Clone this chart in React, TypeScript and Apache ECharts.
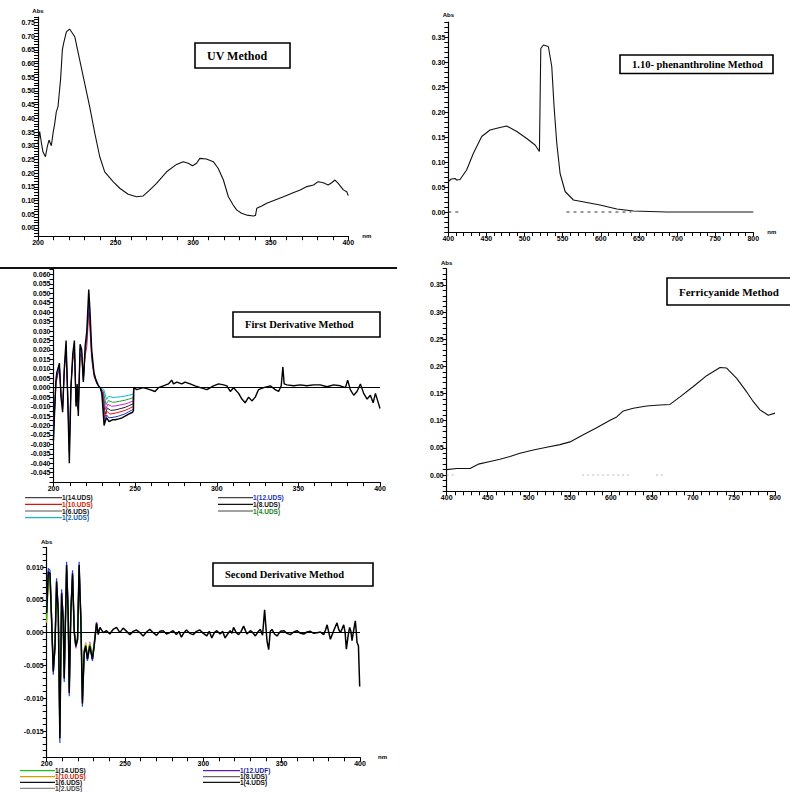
import React, { useEffect, useRef } from "react";
import * as echarts from "echarts";

// ---------- DATA ----------
// UV Method absorption spectrum: [wavelength nm, Abs]
const uvSpectrum: number[][] = [
  [200, 0.309], [201.1, 0.352], [202.2, 0.31], [203.2, 0.278], [204.8, 0.26], [206.0, 0.297],
  [207.1, 0.321], [208.6, 0.3], [209.7, 0.346], [210.8, 0.382], [211.8, 0.424], [212.9, 0.443],
  [214.0, 0.51], [214.6, 0.546], [215.7, 0.65], [216.5, 0.674], [218.3, 0.716], [220.4, 0.726],
  [223.7, 0.698], [226.9, 0.613], [230.1, 0.528], [233.3, 0.443], [236.6, 0.346], [239.8, 0.26],
  [243.0, 0.205], [248.4, 0.169], [252.7, 0.145], [258.1, 0.123], [263.5, 0.114], [267.8, 0.117],
  [272.1, 0.139], [276.4, 0.163], [282.9, 0.205], [289.3, 0.232], [293.6, 0.242], [296.8, 0.236],
  [299.6, 0.227], [302.2, 0.236], [304.3, 0.254], [308.5, 0.252], [313.0, 0.242], [316.1, 0.218],
  [319.5, 0.175], [322.7, 0.114], [325.8, 0.084], [328.0, 0.066], [331.2, 0.054], [334.5, 0.047],
  [338.9, 0.044], [340.2, 0.046], [341.0, 0.072], [344.2, 0.08], [347.4, 0.09], [352.8, 0.102],
  [358.2, 0.114], [363.6, 0.127], [369.0, 0.139], [373.3, 0.151], [377.6, 0.157], [380.6, 0.169],
  [383.9, 0.165], [387.0, 0.157], [389.3, 0.165], [391.4, 0.175], [393.5, 0.163], [396.8, 0.139],
  [399.0, 0.132], [400, 0.118],
];

// 1,10-phenanthroline Method spectrum
const phenSpectrum: number[][] = [
  [400, 0.061], [404, 0.066], [408.8, 0.067], [411, 0.064], [415.4, 0.065], [424, 0.084],
  [432.8, 0.117], [443.8, 0.151], [454.7, 0.164], [467.8, 0.169], [476.6, 0.172], [489.8, 0.161],
  [502.9, 0.147], [513.8, 0.134], [519.5, 0.121], [521.3, 0.327], [524.7, 0.334], [531.2, 0.331],
  [535.7, 0.291], [538.7, 0.211], [542.3, 0.137], [546.6, 0.077], [553.2, 0.041], [564.1, 0.024],
  [581.6, 0.019], [599, 0.014], [621, 0.006], [642.8, 0.002], [686.6, 0], [800, 0],
];
const phenZeroDashes: (number | string)[][] = [[400, 0], [414, 0], ["-", "-"], [555, 0], [640, 0]];

// Ferricyanide Method spectrum
const ferriSpectrum: number[][] = [
  [400, 0.01], [412.2, 0.012], [428.4, 0.012], [438.5, 0.02], [452.8, 0.025], [464.9, 0.029],
  [477.1, 0.034], [489.3, 0.04], [505.5, 0.046], [521.8, 0.051], [538, 0.056], [550.2, 0.061],
  [566.4, 0.074], [582.7, 0.087], [599, 0.101], [607.1, 0.107], [615.2, 0.118], [627.3, 0.123],
  [643.6, 0.127], [659.9, 0.129], [672, 0.13], [684.3, 0.144], [700.5, 0.163], [716.7, 0.183],
  [733, 0.198], [741.1, 0.197], [753.3, 0.178], [765.5, 0.153], [773.6, 0.135], [781.7, 0.12],
  [791.8, 0.11], [800, 0.114],
];
const ferriZeroDashes: (number | string)[][] = [[400, 0], [412, 0], ["-", "-"], [565, 0], [625, 0], ["-", "-"], [655, 0], [665, 0]];

// First derivative spectra
const firstDeriv14: number[][] = [
  [200, -0.028], [200.8, -0.01], [201.5, 0.004], [202.0, 0.008], [203.0, 0.011], [203.6, 0.013],
  [204.6, -0.005], [205.6, -0.013], [206.6, 0.01], [207.7, 0.025], [208.7, -0.005], [209.7, -0.04],
  [210.7, 0.0], [211.8, 0.018], [212.8, 0.025], [213.8, -0.01], [214.5, 0.002], [215.2, -0.015],
  [216.3, 0.023], [217.3, 0.02], [218.3, 0.003], [219.4, 0.022], [220.4, 0.03], [221.6, 0.052],
  [222.4, 0.04], [223.4, 0.02], [224.8, 0.008], [225.7, 0.005], [226.6, 0.003], [227.5, 0.001],
  [228.6, 0.0], [229.6, -0.003], [231.0, -0.02], [232.0, -0.017], [232.6, -0.016], [234, -0.018],
  [236, -0.017], [237.7, -0.017], [240, -0.0165], [242, -0.016], [243.9, -0.015], [246, -0.014],
  [248.5, -0.013], [249.0, -0.012], [249.2, 0.0], [251, -0.001], [255, 0.0], [259, -0.001],
  [262.2, -0.002], [264.3, 0.0], [267.3, 0.001], [270.4, 0.002], [272.4, 0.004], [273.5, 0.002],
  [275.5, 0.003], [278.6, 0.002], [280.6, 0.003], [283.7, 0.002], [286.7, 0.001], [289.9, 0.0],
  [294, -0.001], [298, 0.001], [301.1, 0.002], [304.2, 0.0015], [306.2, 0.001], [308.3, -0.002],
  [310.3, 0.0], [313.4, -0.003], [315.4, -0.006], [317.4, -0.008], [319.5, -0.005], [321.5, -0.007],
  [323.6, -0.005], [325.6, -0.001], [328.7, 0.0], [332.8, 0.001], [335.8, -0.001], [337.9, -0.002],
  [339.5, 0.001], [340.5, 0.011], [341.3, 0.002], [343, 0.0015], [347.1, 0.001], [351.2, 0.0015],
  [355.2, 0.001], [359.3, 0.0015], [363.4, 0.0015], [367.5, 0.0005], [371.6, 0.0015], [375.7, 0.001],
  [378.8, 0.0], [380.2, 0.004], [381.8, -0.001], [383.9, -0.004], [385.9, -0.002], [388.0, 0.002],
  [390, -0.003], [392.1, -0.006], [394.1, -0.004], [395.8, -0.008], [397.2, -0.003], [398.6, -0.007],
  [400, -0.011],
];
const firstDeriv12: number[][] = [
  [200, -0.025], [201.5, 0.003], [203.6, 0.012], [204.6, -0.004], [205.6, -0.011], [206.6, 0.009],
  [207.7, 0.022], [208.7, -0.004], [209.7, -0.034], [210.7, 0.001], [211.8, 0.016], [212.8, 0.022],
  [213.8, -0.008], [215.2, -0.012], [216.3, 0.021], [217.3, 0.018], [218.3, 0.004], [219.4, 0.019],
  [220.4, 0.026], [221.6, 0.045], [222.4, 0.034], [223.4, 0.017], [224.8, 0.007], [226.6, 0.002],
  [228.6, 0], [229.8, -0.003], [231.2, -0.018], [232.6, -0.0145], [234, -0.016], [237.7, -0.0155],
  [240, -0.015], [243.9, -0.0138], [246, -0.0128], [248.8, -0.0115], [249.1, 0],
];
const firstDeriv10: number[][] = [
  [200, -0.022], [201.5, 0.002], [203.6, 0.011], [204.6, -0.003], [205.6, -0.01], [206.6, 0.008],
  [207.7, 0.02], [208.7, -0.003], [209.7, -0.03], [210.7, 0.001], [211.8, 0.014], [212.8, 0.02],
  [213.8, -0.007], [215.2, -0.011], [216.3, 0.018], [217.3, 0.016], [218.3, 0.004], [219.4, 0.017],
  [220.4, 0.022], [221.6, 0.04], [222.4, 0.03], [223.4, 0.015], [224.8, 0.006], [226.6, 0.002],
  [228.6, 0], [229.9, -0.003], [231.3, -0.016], [232.8, -0.0125], [234.5, -0.014], [237.7, -0.0135],
  [240, -0.013], [243.9, -0.012], [246, -0.0112], [248.8, -0.01], [249.1, 0],
];
const firstDeriv8: number[][] = [
  [228.6, 0], [230.1, -0.003], [231.6, -0.014], [233, -0.0108], [235, -0.012], [237.7, -0.0118],
  [240, -0.0113], [243.9, -0.0104], [246, -0.0096], [248.8, -0.0085], [249.1, 0],
];
const firstDeriv6: number[][] = [
  [228.6, 0], [230.3, -0.002], [231.9, -0.0115], [233.3, -0.0088], [235.5, -0.0098], [237.7, -0.0097],
  [240, -0.0093], [243.9, -0.0086], [246, -0.008], [248.8, -0.007], [249.1, 0],
];
const firstDeriv4: number[][] = [
  [228.6, 0], [230.5, -0.002], [232.2, -0.009], [233.6, -0.0068], [236, -0.0077], [238, -0.0076],
  [240.5, -0.0072], [243.9, -0.0066], [246, -0.0061], [248.8, -0.0053], [249.1, 0],
];
const firstDeriv2: number[][] = [
  [228.6, 0], [230.8, -0.001], [232.5, -0.0062], [234, -0.0045], [236.5, -0.0052], [238.5, -0.005],
  [241, -0.0048], [243.9, -0.0044], [246, -0.004], [248.8, -0.0034], [249.1, 0],
];

// Second derivative spectra
const secondDeriv6: number[][] = [
  [200, 0.003], [201.0, 0.0093], [202.1, 0.009], [203.1, 0.002], [204.2, -0.0059], [205.3, -0.002],
  [206.3, 0.0078], [207.4, 0.003], [208.4, -0.0161], [209.5, 0.006], [210.5, 0.002], [211.2, -0.007],
  [212.7, 0.0103], [213.7, 0.003], [214.4, -0.0092], [215.4, 0.003], [216.5, 0.009], [217.6, 0.0],
  [218.6, -0.002], [219.7, -0.001], [220.7, 0.0103], [221.8, 0.002], [222.8, -0.0108], [223.9, -0.003],
  [224.9, -0.002], [226.0, -0.004], [227.5, -0.002], [229.2, -0.004], [230.3, -0.002], [231.8, 0.0014],
  [232.9, -0.0003], [234.0, 0.0008], [236.1, 0], [238.2, 0.0003], [240.3, -0.0002], [242.4, 0.0005],
  [244.6, 0.0008], [246.7, 0], [248.8, 0.0007], [251, 0.0002], [253.1, -0.0003], [255.2, 0.0002],
  [257.3, 0.0004], [259.5, 0], [261.6, -0.0005], [263.7, 0.0001], [265.8, 0.0005], [268, 0],
  [270.1, -0.0004], [272.2, 0.0002], [274.3, 0.0003], [276.5, -0.0002], [278.6, 0], [280.7, 0.0003],
  [282.8, -0.0003], [284.4, 0.0002], [286.0, -0.0007], [287.6, 0], [289.2, 0.0004], [291.3, -0.0001],
  [293.5, -0.0003], [295.6, 0.0002], [297.7, 0.0004], [300, -0.0001], [302.2, -0.0005], [303.8, 0.0002],
  [305.4, -0.0008], [307, 0], [308.6, 0.0003], [310.7, -0.0002], [312.3, 0.0002], [313.9, -0.0008],
  [315.5, -0.0002], [317.1, 0.0003], [318.2, -0.0001], [319.3, 0.0008], [321, 0], [322.5, -0.0003],
  [324.1, 0.0002], [325.7, 0.001], [327.8, -0.0002], [330.0, 0.0003], [331.6, 0], [333.2, -0.0005],
  [334.8, 0.0001], [336.4, 0.0005], [337.8, -0.0004], [339.1, 0.0035], [340.6, -0.0012], [341.7, -0.0026],
  [342.7, 0.0002], [343.8, 0.0005], [345.4, -0.0002], [347.0, -0.0005], [349.2, 0.0002], [351.3, 0.0003],
  [353.4, -0.0001], [355.5, -0.0003], [357.7, 0.0001], [359.8, 0.0003], [362, -0.0001], [364.1, -0.0002],
  [366.2, 0.0001], [368.3, 0.0002], [370.5, -0.0001], [372.6, 0], [374.7, 0.0001], [376.8, -0.0003],
  [378, 0.0004], [379.0, 0.0012], [380.1, 0], [381.1, -0.001], [383.2, 0.0003], [385.3, 0.0015],
  [386.4, 0.0005], [387.5, 0], [388.6, 0.0006], [389.6, 0.0012], [390.5, 0], [391.3, -0.0025],
  [392.4, -0.0005], [393.4, 0.0008], [394.2, 0.0002], [394.9, -0.0012], [396, 0.0004], [397.0, 0.0018],
  [397.6, 0.0002], [398.1, -0.0015], [399, -0.002], [399.8, -0.0082], [400, -0.0082],
];
const secondDeriv14: number[][] = [
  [200, 0.002], [201, 0.0085], [202.1, 0.0082], [203.1, 0.002], [204.2, -0.005], [205.3, -0.0015],
  [206.3, 0.007], [207.4, 0.0028], [208.4, -0.0145], [209.5, 0.0055], [210.5, 0.002], [211.2, -0.0062],
  [212.7, 0.0094], [213.7, 0.0028], [214.4, -0.0083], [215.4, 0.0028], [216.5, 0.0082], [217.6, 0],
  [218.6, -0.0018], [219.7, -0.001], [220.7, 0.0094], [221.8, 0.002], [222.8, -0.0098], [223.9, -0.0028],
  [224.9, -0.002], [226, -0.0036], [227.5, -0.0018], [229.2, -0.0036], [230.3, -0.0018], [231.8, 0.0012],
  [232.9, 0],
];
const secondDeriv12: number[][] = [
  [200, 0.004], [201, 0.0098], [202.1, 0.0095], [203.1, 0.0025], [204.2, -0.0064], [205.3, -0.0022],
  [206.3, 0.0083], [207.4, 0.0033], [208.4, -0.0168], [209.5, 0.0066], [210.5, 0.0023], [211.2, -0.0075],
  [212.7, 0.0108], [213.7, 0.0032], [214.4, -0.0097], [215.4, 0.0032], [216.5, 0.0095], [217.6, 0.0002],
  [218.6, -0.0022], [219.7, -0.0012], [220.7, 0.0108], [221.8, 0.0022], [222.8, -0.0113], [223.9, -0.0033],
  [224.9, -0.0022], [226, -0.0043], [227.5, -0.0022], [229.2, -0.0043], [230.3, -0.0022], [231.8, 0.0015],
  [232.9, 0],
];
const secondDeriv10: number[][] = [
  [200, 0.0015], [201, 0.0078], [202.1, 0.0075], [203.1, 0.0016], [204.2, -0.0047], [205.3, -0.0014],
  [206.3, 0.0065], [207.4, 0.0025], [208.4, -0.0132], [209.5, 0.005], [210.5, 0.0016], [211.2, -0.0056],
  [212.7, 0.0086], [213.7, 0.0025], [214.4, -0.0075], [215.4, 0.0025], [216.5, 0.0075], [217.6, 0],
  [218.6, -0.0016], [219.7, -0.0008], [220.7, 0.0085], [221.8, 0.0016], [222.8, -0.0089], [223.9, -0.0025],
  [224.9, -0.0016], [226, -0.0033], [227.5, -0.0016], [229.2, -0.0033], [230.3, -0.0016], [231.8, 0.001],
  [232.9, 0],
];
const secondDeriv2: number[][] = [
  [200, 0.0035], [201, 0.0088], [202.1, 0.0092], [203.1, 0.0028], [204.2, -0.0056], [205.3, -0.0025],
  [206.3, 0.0074], [207.4, 0.0038], [208.4, -0.0155], [209.5, 0.0062], [210.5, 0.0028], [211.2, -0.0068],
  [212.7, 0.0098], [213.7, 0.0036], [214.4, -0.0088], [215.4, 0.0035], [216.5, 0.0087], [217.6, 0.0006],
  [218.6, -0.0024], [219.7, -0.0006], [220.7, 0.0098], [221.8, 0.0026], [222.8, -0.0104], [223.9, -0.0036],
  [224.9, -0.0015], [226, -0.0042], [227.5, -0.0014], [229.2, -0.0041], [230.3, -0.0015], [231.8, 0.0016],
  [232.9, 0],
];

// Axis tick-label settings
const uvXAxis = { min: 200, max: 400, tick: 10, major: 50, from: 200, to: 400, digits: 0 };
const visXAxis = { min: 400, max: 800, tick: 10, major: 50, from: 400, to: 800, digits: 0 };
const uvYAxis = { min: -0.03, max: 0.77, tick: 0.01, major: 0.05, from: 0, to: 0.75, digits: 2 };
const phenYAxis = { min: -0.04, max: 0.38, tick: 0.01, major: 0.05, from: 0, to: 0.35, digits: 2 };
const firstDerivYAxis = { min: -0.05, max: 0.0625, tick: 0.0025, major: 0.005, from: -0.045, to: 0.06, digits: 3 };
const ferriYAxis = { min: -0.03, max: 0.38, tick: 0.01, major: 0.05, from: 0, to: 0.35, digits: 2 };
const secondDerivYAxis = { min: -0.019, max: 0.013, tick: 0.001, major: 0.005, from: -0.015, to: 0.01, digits: 3 };

const firstLegendLeft = ["1(14.UDS)", "1(10.UDS)", "1(6.UDS)", "1(2.UDS)"];
const firstLegendRight = ["1(12.UDS)", "1(8.UDS)", "1(4.UDS)"];
const secondLegendLeft = ["1(14.UDS)", "1(10.UDS)", "1(6.UDS)", "1(2.UDS)"];
const secondLegendRight = ["1(12.UDF)", "1(8.UDS)", "1(4.UDS)"];

// ---------- HELPERS ----------
const SANS = "'Liberation Sans', Arial, sans-serif";
const SERIF = "'Liberation Serif', 'Times New Roman', serif";

function axis(grid: number, a: any, name = "", nameGap = 3) {
  return {
    type: "value",
    gridIndex: grid,
    min: a.min,
    max: a.max,
    interval: a.tick,
    splitLine: { show: false },
    axisLine: { show: true, onZero: false, lineStyle: { color: "#000", width: 1.2 } },
    axisTick: { show: true, inside: false, length: 4, lineStyle: { color: "#000", width: 1 } },
    axisLabel: {
      show: true,
      showMinLabel: true,
      showMaxLabel: true,
      formatter: (v: number) => {
        const k = Math.round(v / a.major);
        if (Math.abs(k * a.major - v) > a.tick / 100) return "";
        if (v < a.from - a.tick / 100 || v > a.to + a.tick / 100) return "";
        return (k * a.major).toFixed(a.digits);
      },
      fontSize: 7,
      fontWeight: "bold",
      color: "#000",
      fontFamily: SANS,
      margin: 3,
    },
    name,
    nameLocation: "end",
    nameGap,
    nameTextStyle: { fontSize: 6, fontWeight: "bold", color: "#000", fontFamily: SANS },
  };
}

function line(data: any[], xi: number, color: string, width = 1.1, z = 2, extra: any = {}) {
  return {
    type: "line",
    data,
    xAxisIndex: xi,
    yAxisIndex: xi,
    showSymbol: false,
    symbol: "none",
    lineStyle: { color, width, ...(extra.lineStyle || {}) },
    z,
    silent: true,
    connectNulls: false,
    ...(extra.rest || {}),
  };
}

function titleBox(x: number, y: number, w: number, h: number, text: string, fontSize = 11) {
  return {
    type: "group",
    children: [
      { type: "rect", shape: { x, y, width: w, height: h }, style: { fill: "#fff", stroke: "#000", lineWidth: 1.6 }, z: 10 },
      {
        type: "text",
        x: x + 12,
        y: y + h / 2,
        style: { text, fontSize, fontWeight: "bold", fontFamily: SERIF, fill: "#000", verticalAlign: "middle" },
        z: 11,
      },
    ],
  };
}

function legendItems(x1: number, x2: number, ys: number[], names: string[], lineColors: string[], textColors: string[]) {
  const out: any[] = [];
  names.forEach((n, i) => {
    out.push({ type: "line", shape: { x1, y1: ys[i], x2, y2: ys[i] }, style: { stroke: lineColors[i], lineWidth: 1.2 } });
    out.push({
      type: "text",
      x: x2,
      y: ys[i],
      style: { text: n, fontSize: 6.5, fontWeight: "bold", fontFamily: SANS, fill: textColors[i], verticalAlign: "middle" },
    });
  });
  return out;
}

export default function App() {
  const ref = useRef<HTMLDivElement>(null);
  useEffect(() => {
    if (!ref.current) return;
    const chart = echarts.init(ref.current, null, { renderer: "svg" });
    const markZero = { silent: true, symbol: "none", label: { show: false }, lineStyle: { color: "#000", width: 1, type: "solid" }, data: [{ yAxis: 0 }] };

    const option: any = {
      animation: false,
      backgroundColor: "#fff",
      grid: [
        { left: 38, top: 17.0, width: 310.3, height: 219.2 },
        { left: 448.3, top: 22, width: 305, height: 210 },
        { left: 53.5, top: 269.7, width: 326.5, height: 212.4 },
        { left: 446.7, top: 268.7, width: 328.3, height: 222.6 },
        { left: 46.7, top: 547.4, width: 313.3, height: 209.9 },
      ],
      xAxis: [
        axis(0, uvXAxis, "nm", 14),
        axis(1, visXAxis, "nm", 14),
        axis(2, uvXAxis),
        axis(3, visXAxis),
        axis(4, uvXAxis, "nm", 18),
      ],
      yAxis: [
        axis(0, uvYAxis, "Abs", 3),
        axis(1, phenYAxis, "Abs", 4),
        axis(2, firstDerivYAxis),
        axis(3, ferriYAxis, "Abs", 3),
        axis(4, secondDerivYAxis, "Abs", 2),
      ],
      series: [
        line(uvSpectrum, 0, "#111", 1.1),
        line(phenZeroDashes, 1, "#333", 1, 1, { lineStyle: { type: [3, 4] } }),
        line(phenSpectrum, 1, "#111", 1.1),
        line(ferriZeroDashes, 3, "#bbb", 1, 1, { lineStyle: { type: [2, 3] } }),
        line(ferriSpectrum, 3, "#111", 1.1),
        line(firstDeriv2, 2, "#00b8c8", 1, 2),
        line(firstDeriv4, 2, "#20a030", 1, 2),
        line(firstDeriv6, 2, "#d020d0", 1, 2),
        line(firstDeriv8, 2, "#222", 1, 2),
        line(firstDeriv10, 2, "#e01010", 1, 2),
        line(firstDeriv12, 2, "#2030d0", 1, 2),
        line(firstDeriv14, 2, "#000", 1.4, 3, { rest: { markLine: markZero } }),
        line(secondDeriv2, 4, "#e020e0", 1.2, 2),
        line(secondDeriv10, 4, "#e0c000", 1.2, 2),
        line(secondDeriv12, 4, "#2040e0", 1.2, 2),
        line(secondDeriv14, 4, "#20c020", 1.2, 2),
        line(secondDeriv6, 4, "#000", 1.5, 3, { rest: { markLine: markZero } }),
      ],
      graphic: [
        { type: "line", shape: { x1: 0, y1: 268, x2: 397, y2: 268 }, style: { stroke: "#111", lineWidth: 2 } },
        titleBox(195, 43, 95, 25, "UV Method", 12),
        titleBox(620, 55, 153, 18.5, "1.10- phenanthroline Method", 10.5),
        titleBox(233, 312, 147, 25, "First Derivative Method", 10.5),
        titleBox(667, 278, 130, 27, "Ferricyanide Method", 11),
        titleBox(213, 563, 160, 23, "Second Derivative Method", 10.5),
        ...legendItems(25, 62, [497.7, 504.3, 511, 517.7], firstLegendLeft, ["#444", "#e01010", "#555", "#10c0c0"], ["#111", "#d02000", "#111", "#1060a0"]),
        ...legendItems(218, 253, [497.7, 504.3, 511], firstLegendRight, ["#444", "#111", "#444"], ["#2030c0", "#111", "#208020"]),
        ...legendItems(20, 55, [770.7, 776.7, 782.3, 788.3], secondLegendLeft, ["#20c020", "#d0a000", "#111", "#888"], ["#111", "#d02000", "#111", "#444"]),
        ...legendItems(203, 240, [770.7, 776.7, 782.3], secondLegendRight, ["#6020c0", "#666", "#111"], ["#2020a0", "#111", "#111"]),
      ],
    };
    chart.setOption(option);
    return () => chart.dispose();
  }, []);
  return <div ref={ref} style={{ position: "fixed", left: 0, top: 0, width: 790, height: 792, background: "#fff" }} />;
}
